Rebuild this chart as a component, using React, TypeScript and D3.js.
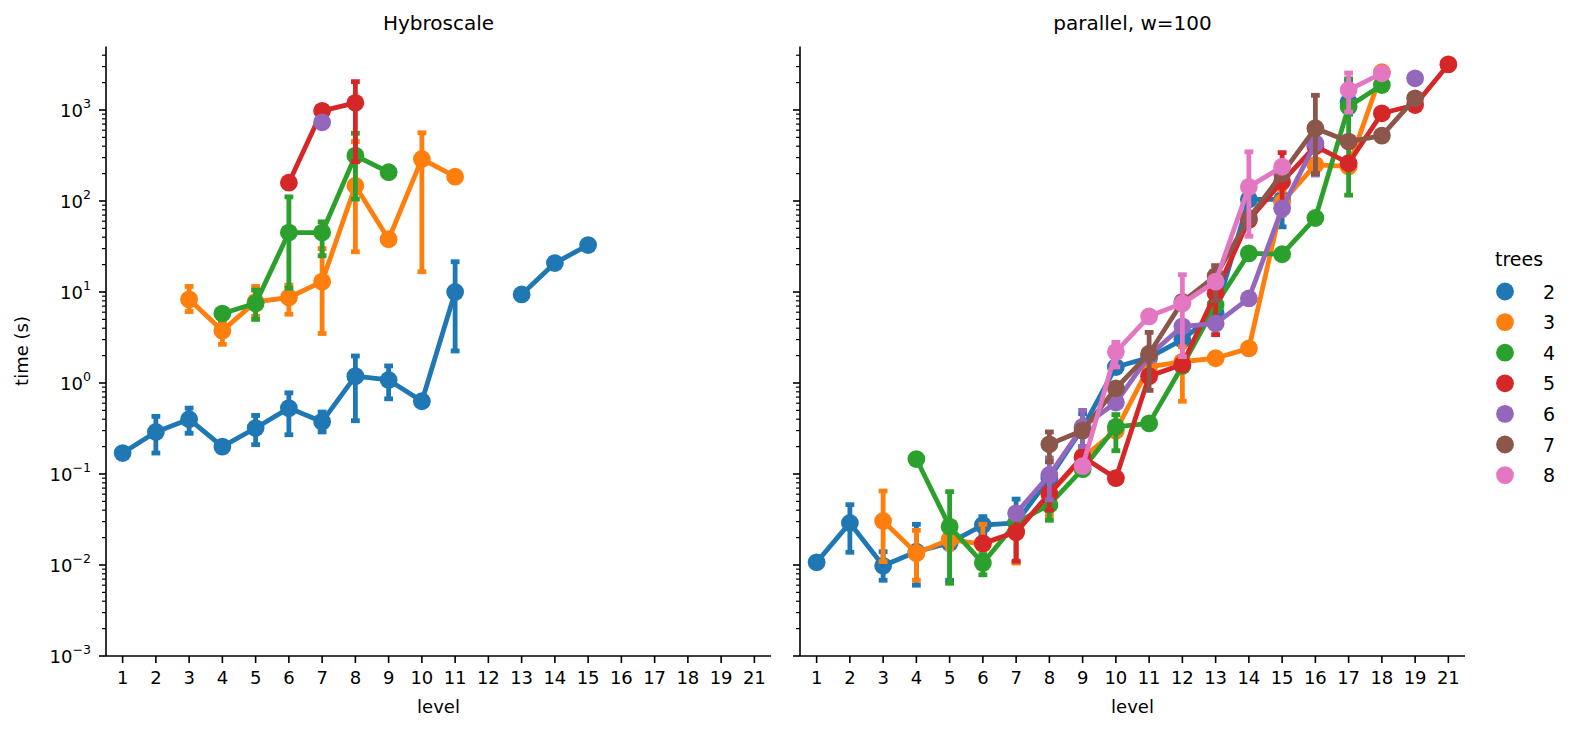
import React from "react";
import * as d3 from "d3";

// ---------- data ----------
const levels = ["1", "2", "3", "4", "5", "6", "7", "8", "9", "10", "11", "12", "13", "14", "15", "16", "17", "18", "19", "21"];
const treeNames = ["2", "3", "4", "5", "6", "7", "8"];
const palette = ["#1f77b4", "#ff7f0e", "#2ca02c", "#d62728", "#9467bd", "#8c564b", "#e377c2"];
const yTickExps = [-3, -2, -1, 0, 1, 2, 3];
const panelTitles = ["Hybroscale", "parallel, w=100"];

type V = number | null;
type E = [string, number, number];
const _ = null;

// Hybroscale: values per level (1..19, 21)
const hyb2: V[] = [0.17, 0.29, 0.4, 0.2, 0.32, 0.53, 0.376, 1.19, 1.08, 0.63, 10, _, 9.4, 20.8, 32.8, _, _, _, _, _];
const hyb3: V[] = [_, _, 8.3, 3.76, 7.8, 8.7, 13, 147, 38, 290, 185, _, _, _, _, _, _, _, _, _];
const hyb4: V[] = [_, _, _, 5.8, 7.5, 45, 45, 315, 207, _, _, _, _, _, _, _, _, _, _, _];
const hyb5: V[] = [_, _, _, _, _, 159, 980, 1200, _, _, _, _, _, _, _, _, _, _, _, _];
const hyb6: V[] = [_, _, _, _, _, _, 733, _, _, _, _, _, _, _, _, _, _, _, _, _];
const hyb7: V[] = [_, _, _, _, _, _, _, _, _, _, _, _, _, _, _, _, _, _, _, _];
const hyb8: V[] = [_, _, _, _, _, _, _, _, _, _, _, _, _, _, _, _, _, _, _, _];

const hybErr2: E[] = [["2", 0.17, 0.43], ["3", 0.28, 0.53], ["4", 0.19, 0.22], ["5", 0.21, 0.44], ["6", 0.27, 0.78], ["7", 0.29, 0.48], ["8", 0.385, 1.98], ["9", 0.67, 1.54], ["11", 2.25, 21.5]];
const hybErr3: E[] = [["3", 6.1, 11.5], ["4", 2.66, 4.6], ["5", 5.4, 11.5], ["6", 5.7, 11.9], ["7", 3.5, 30], ["8", 27.7, 450], ["10", 16.7, 562]];
const hybErr4: E[] = [["5", 5.0, 10.5], ["6", 11, 111], ["7", 25, 59], ["8", 105, 555]];
const hybErr5: E[] = [["8", 270, 2050]];
const hybErr6: E[] = [];
const hybErr7: E[] = [];
const hybErr8: E[] = [];

// parallel, w=100
const par2: V[] = [0.0107, 0.029, 0.0098, 0.014, 0.0175, 0.0275, 0.029, 0.09, 0.32, 1.5, 1.9, 3.0, 5.9, 104, 104, _, 1230, _, _, _];
const par3: V[] = [_, _, 0.0305, 0.0135, 0.019, 0.017, 0.023, 0.06, 0.15, 0.3, 1.5, 1.72, 1.87, 2.4, 97, 250, 240, 2600, _, _];
const par4: V[] = [_, _, _, 0.146, 0.0264, 0.0105, 0.029, 0.046, 0.113, 0.33, 0.36, 1.54, 7.2, 26.6, 26, 65, 1090, 1880, _, _];
const par5: V[] = [_, _, _, _, _, 0.0173, 0.023, 0.061, 0.155, 0.09, 1.19, 1.6, 9.7, 62, 163, 400, 260, 920, 1135, 3170];
const par6: V[] = [_, _, _, _, _, _, 0.037, 0.0975, 0.33, 0.61, 2.0, 4.2, 4.5, 8.5, 83, 430, _, _, 2230, _];
const par7: V[] = [_, _, _, _, _, _, _, 0.212, 0.3, 0.875, 2.1, 7.8, 15, 64.6, 200, 630, 450, 523, 1345, _];
const par8: V[] = [_, _, _, _, _, _, _, _, 0.122, 2.2, 5.4, 7.5, 13, 143, 238, _, 1660, 2530, _, _];

const parErr2: E[] = [["2", 0.0138, 0.046], ["3", 0.0068, 0.014], ["4", 0.006, 0.028], ["5", 0.0068, 0.026], ["6", 0.022, 0.034], ["7", 0.0107, 0.053], ["9", 0.2, 0.46], ["15", 52, 110], ["17", 900, 2100]];
const parErr3: E[] = [["3", 0.0109, 0.065], ["4", 0.0068, 0.024], ["5", 0.015, 0.025], ["6", 0.011, 0.028], ["7", 0.0105, 0.035], ["8", 0.035, 0.09], ["12", 0.63, 2.5], ["15", 70, 130]];
const parErr4: E[] = [["5", 0.0063, 0.064], ["6", 0.0078, 0.013], ["8", 0.031, 0.065], ["10", 0.18, 0.45], ["17", 116, 2200]];
const parErr5: E[] = [["7", 0.011, 0.035], ["8", 0.04, 0.09], ["13", 3.4, 16.7], ["15", 80, 340], ["16", 200, 500]];
const parErr6: E[] = [["8", 0.052, 0.15], ["9", 0.2, 0.5], ["16", 193, 500]];
const parErr7: E[] = [["8", 0.136, 0.29], ["11", 0.83, 3.6], ["13", 8, 19.5], ["16", 200, 1450]];
const parErr8: E[] = [["10", 1.5, 2.8], ["12", 1.95, 15.5], ["14", 41, 347], ["17", 950, 2550]];

const hybValues = [hyb2, hyb3, hyb4, hyb5, hyb6, hyb7, hyb8];
const hybErrs = [hybErr2, hybErr3, hybErr4, hybErr5, hybErr6, hybErr7, hybErr8];
const parValues = [par2, par3, par4, par5, par6, par7, par8];
const parErrs = [parErr2, parErr3, parErr4, parErr5, parErr6, parErr7, parErr8];

// ---------- layout ----------
const W = 1575;
const H = 736;
const FONT = "DejaVu Sans";
const yTop = 46.6;
const yBottom = 656;
const panelW = 665;
const panelX = [106, 800];
const yMax = Math.pow(10, 3 + (110 - yTop) / ((yBottom - 110) / 6));

const yScale = d3.scaleLog().domain([1e-3, yMax]).range([yBottom, yTop]);

const LW = 4.8;
const R = 8.9;
const CAP = 4.4;

function Panel({ x0, title, values, errs, showY }: { x0: number; title: string; values: V[][]; errs: E[][]; showY: boolean }) {
  const x = d3.scalePoint<string>().domain(levels).range([x0, x0 + panelW]).padding(0.5);
  const line = d3
    .line<V>()
    .defined((d) => d != null)
    .x((_d, i) => x(levels[i]) as number)
    .y((d) => yScale(d as number));

  const minor: number[] = [];
  for (let e = -3; e <= 3; e++) {
    for (let m = 2; m <= 9; m++) {
      const v = m * Math.pow(10, e);
      if (v <= yMax) minor.push(v);
    }
  }
  const cx = x0 + panelW / 2;
  return (
    <g>
      {values.map((vals, j) => {
        const c = palette[j];
        return (
          <g key={j}>
            <path d={line(vals) || ""} fill="none" stroke={c} strokeWidth={LW} strokeLinejoin="round" />
            {errs[j].map(([lv, lo, hi], k) => {
              const px = x(lv) as number;
              return (
                <g key={k} stroke={c} strokeWidth={LW}>
                  <line x1={px} x2={px} y1={yScale(lo)} y2={yScale(hi)} />
                  <line x1={px - CAP} x2={px + CAP} y1={yScale(lo)} y2={yScale(lo)} />
                  <line x1={px - CAP} x2={px + CAP} y1={yScale(hi)} y2={yScale(hi)} />
                </g>
              );
            })}
            {vals.map((v, i) =>
              v == null ? null : <circle key={i} cx={x(levels[i]) as number} cy={yScale(v)} r={R} fill={c} />
            )}
          </g>
        );
      })}
      <line x1={x0} x2={x0} y1={yTop} y2={yBottom} stroke="#000" strokeWidth={1.6} />
      <line x1={x0} x2={x0 + panelW} y1={yBottom} y2={yBottom} stroke="#000" strokeWidth={1.6} />
      {yTickExps.map((e) => {
        const yy = yScale(Math.pow(10, e));
        return (
          <g key={e}>
            <line x1={x0 - 7} x2={x0} y1={yy} y2={yy} stroke="#000" strokeWidth={1.6} />
            {showY && (
              <text x={x0 - 15} y={yy + 6.5} textAnchor="end" fontSize={18} fontFamily={FONT}>
                10
                <tspan dy={-8.5} fontSize={12.6}>{e < 0 ? "\u2212" + Math.abs(e) : String(e)}</tspan>
              </text>
            )}
          </g>
        );
      })}
      {minor.map((v, i) => (
        <line key={i} x1={x0 - 4} x2={x0} y1={yScale(v)} y2={yScale(v)} stroke="#000" strokeWidth={1.2} />
      ))}
      {levels.map((lv) => {
        const px = x(lv) as number;
        return (
          <g key={lv}>
            <line x1={px} x2={px} y1={yBottom} y2={yBottom + 7} stroke="#000" strokeWidth={1.6} />
            <text x={px} y={yBottom + 28} textAnchor="middle" fontSize={18} fontFamily={FONT}>
              {lv}
            </text>
          </g>
        );
      })}
      <text x={cx} y={713} textAnchor="middle" fontSize={18} fontFamily={FONT}>
        level
      </text>
      <text x={cx} y={30} textAnchor="middle" fontSize={20} fontFamily={FONT}>
        {title}
      </text>
    </g>
  );
}

export default function App() {
  const legendY0 = 291.5;
  const legendStep = 30.6;
  return (
    <svg width={W} height={H} style={{ position: "absolute", left: 0, top: 0, background: "#fff" }}>
      <rect x={0} y={0} width={W} height={H} fill="#fff" />
      <Panel x0={panelX[0]} title={panelTitles[0]} values={hybValues} errs={hybErrs} showY={true} />
      <Panel x0={panelX[1]} title={panelTitles[1]} values={parValues} errs={parErrs} showY={false} />
      <text transform={`translate(28,351) rotate(-90)`} textAnchor="middle" fontSize={18} fontFamily={FONT}>
        time (s)
      </text>
      <text x={1519} y={266} textAnchor="middle" fontSize={19} fontFamily={FONT}>
        trees
      </text>
      {treeNames.map((t, i) => (
        <g key={t}>
          <circle cx={1505} cy={legendY0 + i * legendStep} r={R} fill={palette[i]} />
          <text x={1543} y={legendY0 + i * legendStep + 7} fontSize={19} fontFamily={FONT}>
            {t}
          </text>
        </g>
      ))}
    </svg>
  );
}
